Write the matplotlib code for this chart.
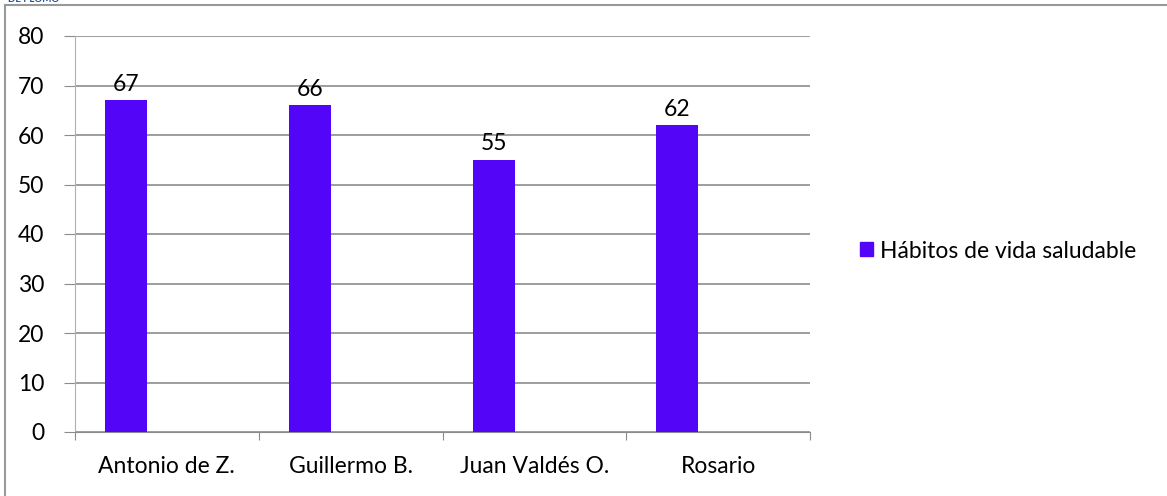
import matplotlib
matplotlib.use("Agg")
import matplotlib.pyplot as plt
from matplotlib.lines import Line2D
from matplotlib.patches import Patch

# chart data
names = ['Antonio de Z.', 'Guillermo B.', 'Juan Valdés O.', 'Rosario']
values = [67, 66, 55, 62]
series_name = 'Hábitos de vida saludable'
yticks = [0, 10, 20, 30, 40, 50, 60, 70, 80]

bar_color = '#5305f7'
grid_color = '#8c8c8c'
fs = 16.5

plt.rcParams['font.family'] = ['Lato', 'DejaVu Sans']

fig = plt.figure(figsize=(11.67, 4.96), dpi=100)
ax = fig.add_axes([75 / 1167, 1 - 432 / 496, 735 / 1167, 396 / 496])

# Excel-style slots: category i spans [i, i+1], bar sits in left third
pos = [i + 0.278 for i in range(len(names))]
ax.bar(pos, values, width=0.228, color=bar_color, zorder=3)
for x, v in zip(pos, values):
    ax.annotate(str(v), (x, v), xytext=(0, 4), textcoords='offset points',
                ha='center', va='bottom', fontsize=fs, color='black')

ax.set_xlim(0, len(names))
ax.set_ylim(0, 80)
ax.set_yticks(yticks)
ax.set_yticklabels([str(t) for t in yticks], fontsize=fs)
ax.set_xticks(range(len(names) + 1))
ax.set_xticklabels([''] * (len(names) + 1))
ax.set_xticks([i + 0.5 for i in range(len(names))], minor=True)
ax.set_xticklabels(names, minor=True, fontsize=fs)
ax.tick_params(axis='x', which='minor', length=0, pad=17)
ax.tick_params(axis='x', which='major', length=6, color=grid_color, direction='out')
ax.tick_params(axis='y', length=8, color=grid_color, pad=14)
ax.yaxis.grid(True, color=grid_color, linewidth=1.2, zorder=0)

for s in ['top', 'right']:
    ax.spines[s].set_visible(False)
ax.spines['left'].set_color('#b0b0b0')
ax.spines['bottom'].set_color(grid_color)

fig.legend(handles=[Patch(color=bar_color, label=series_name)],
           loc='center left', bbox_to_anchor=(851 / 1167, 1 - 251 / 496),
           frameon=False, fontsize=fs, handlelength=0.55, handleheight=0.55,
           handletextpad=0.3, borderaxespad=0)

# outer chart frame (cropped: only left and top edges visible)
fig.add_artist(Line2D([5 / 1167, 5 / 1167], [0, 1 - 5 / 496], color='#999999', lw=1.5))
fig.add_artist(Line2D([5 / 1167, 1], [1 - 5 / 496, 1 - 5 / 496], color='#999999', lw=1.5))
fig.text(8 / 1167, 1, 'DE PLOMO', color='#1f4e9a', fontsize=7, fontweight='bold',
         va='center', ha='left')

fig.savefig('out.png', dpi=100)
